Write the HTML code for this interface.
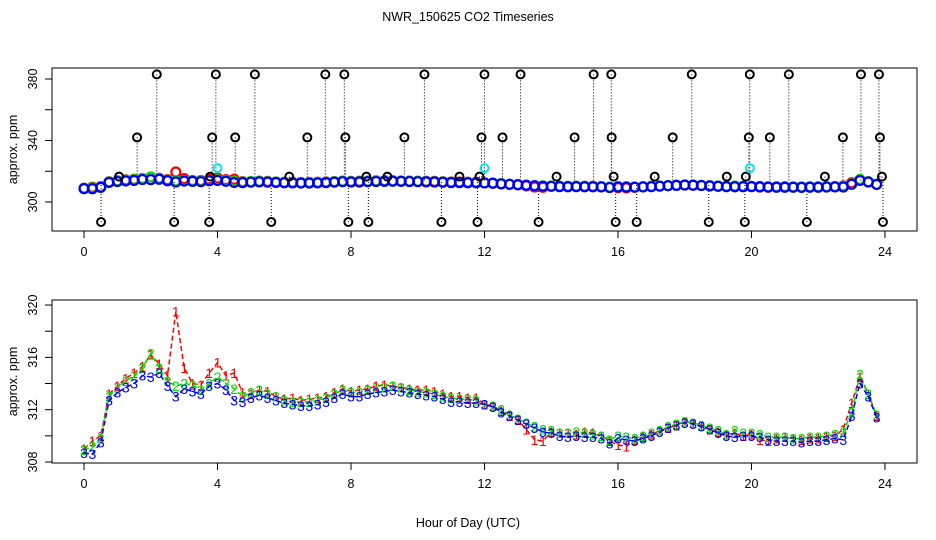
<!DOCTYPE html>
<html><head><meta charset="utf-8"><style>
html,body{margin:0;padding:0;background:#fff;}
svg{display:block;font-family:"Liberation Sans",sans-serif;}
</style></head><body>
<svg id="chart" width="936" height="540" viewBox="0 0 936 540" xmlns="http://www.w3.org/2000/svg">
<rect width="936" height="540" fill="#fff"/>
<text x="468" y="21" font-size="12.5" text-anchor="middle">NWR_150625  CO2 Timeseries</text>
<text x="468" y="527" font-size="12.5" text-anchor="middle">Hour of Day (UTC)</text>
<g id="top"></g>
<g id="bot"></g>
</svg>
<script>
const xTicks=[0,4,8,12,16,20,24];
const topYTicks=[300,320,340,360,380];
const topYLabels=[300,340,380];
const botYTicks=[308,310,312,314,316,318,320];
const botYLabels=[308,312,316,320];
const step=0.25;
const s1=[309.0,309.6,310.0,313.2,313.8,314.4,314.8,315.3,316.2,315.5,314.6,319.5,315.2,314.0,313.9,314.8,315.6,314.6,314.8,313.3,313.2,313.5,313.4,313.0,312.8,312.9,312.7,312.8,312.9,313.0,313.3,313.6,313.4,313.5,313.6,313.8,313.9,313.8,313.7,313.6,313.5,313.5,313.4,313.2,313.0,313.0,312.9,312.9,312.4,312.3,311.9,311.5,311.2,310.5,309.7,309.6,310.3,310.2,310.2,310.1,310.3,310.2,310.0,309.6,309.3,309.2,309.7,309.9,310.1,310.4,310.6,310.8,311.1,311.0,310.8,310.5,310.3,310.1,310.2,310.0,310.1,309.7,309.6,309.8,309.9,309.8,309.7,309.8,309.8,309.9,310.0,310.5,312.5,314.5,313.2,311.5];
const s2=[308.9,309.2,309.8,313.0,313.7,314.2,314.6,315.2,316.3,315.2,314.2,313.8,314.0,313.9,313.5,314.0,314.5,314.0,313.6,313.0,313.3,313.5,313.2,313.0,312.7,312.6,312.6,312.6,312.7,312.9,313.2,313.5,313.3,313.3,313.5,313.7,313.7,313.8,313.7,313.5,313.4,313.3,313.2,313.0,312.9,312.8,312.8,312.7,312.4,312.3,312.0,311.6,311.3,311.0,310.7,310.5,310.4,310.2,310.2,310.3,310.2,310.1,310.0,309.7,310.0,309.9,309.8,310.0,310.2,310.4,310.7,310.9,311.1,311.0,310.8,310.6,310.4,310.1,310.4,310.2,310.2,310.1,309.9,309.9,309.9,309.8,309.8,309.9,309.9,310.0,310.1,310.3,311.8,314.7,313.2,311.6];
const s3=[308.7,308.6,309.5,312.7,313.3,313.7,314.0,314.6,314.5,314.8,313.8,313.0,313.6,313.4,313.2,313.8,314.0,313.5,312.7,312.6,312.9,313.1,312.9,312.7,312.5,312.4,312.3,312.3,312.4,312.6,312.9,313.2,313.0,313.0,313.2,313.3,313.4,313.5,313.4,313.3,313.2,313.1,313.0,312.8,312.6,312.6,312.5,312.5,312.4,312.2,311.8,311.5,311.2,310.9,310.6,310.3,310.2,310.0,309.9,310.0,309.9,309.9,309.8,309.4,309.8,309.7,309.6,309.8,310.0,310.3,310.6,310.8,311.0,310.9,310.7,310.5,310.2,310.0,309.9,310.0,310.0,309.9,309.7,309.6,309.6,309.6,309.5,309.6,309.6,309.7,309.8,309.7,311.5,314.0,313.0,311.4];
const outHours=[2.18,3.95,5.12,7.23,7.80,10.2,12.0,13.08,15.27,15.8,18.21,19.95,21.12,23.28,23.82,
 1.59,3.84,4.53,6.69,7.83,9.6,11.91,12.54,14.7,15.81,17.64,19.92,20.55,22.74,23.85,
 0.51,2.70,3.75,5.61,7.92,8.52,10.71,11.79,13.62,15.93,16.56,18.72,19.8,21.66,23.94,
 1.05,3.78,6.15,8.46,9.09,11.25,11.85,14.16,15.87,17.1,19.26,19.83,22.2,23.91];
const outValues=[383,383,383,383,383,383,383,383,383,383,383,383,383,383,383,
 342,342,342,342,342,342,342,342,342,342,342,342,342,342,342,
 287,287,287,287,287,287,287,287,287,287,287,287,287,287,287,
 316.5,316.5,316.5,316.5,316.5,316.5,316.5,316.5,316.5,316.5,316.5,316.5,316.5,316.5];
const cyanHours=[4.0,12.0,19.95];
const cyanValues=[322,322,322];

const NS="http://www.w3.org/2000/svg";
function mk(tag,attrs,parent){const e=document.createElementNS(NS,tag);for(const k in attrs)e.setAttribute(k,attrs[k]);parent.appendChild(e);return e;}
const L=52,R=917;
function X(h){return L+(h+0.96)/(25.92)*(R-L);}
function topY(v){return 202-(v-300)*1.5375;}
function botY(v){return 462-(v-308)*13.08;}

function axes(g,top,bot,yf,ticks,labels){
  const b=mk('rect',{x:L,y:top,width:R-L,height:bot-top,fill:'none',stroke:'#000','stroke-width':1},g);
  
  
  xTicks.forEach(t=>{
    const ln=mk('line',{x1:X(t),x2:X(t),y1:bot,y2:bot+7,stroke:'#000'},g);
    
    
    const tx=mk('text',{x:X(t),y:bot+25,'font-size':12.5,'text-anchor':'middle'},g);
    
    
    tx.textContent=t;
  });
  ticks.forEach(t=>{
    const ln=mk('line',{x1:L-7,x2:L,y1:yf(t),y2:yf(t),stroke:'#000'},g);
    
    
  });
  labels.forEach(t=>{
    const tx=mk('text',{x:0,y:0,'font-size':12.5,'text-anchor':'middle',transform:`translate(37,${yf(t)}) rotate(-90)`},g);
    
    
    tx.textContent=t;
  });
  const yl=mk('text',{x:0,y:0,'font-size':12.5,'text-anchor':'middle',transform:`translate(17,${(top+bot)/2}) rotate(-90)`},g);
  
  
  yl.textContent='approx. ppm';
}
const series=[[s1,'#ff0000','1'],[s2,'#00e000','2'],[s3,'#0000ff','3']];
const gt=document.getElementById('top');
axes(gt,68,231,topY,topYTicks,topYLabels);
outHours.forEach((h,i)=>{
  const ln=mk('line',{x1:X(h),x2:X(h),y1:topY(outValues[i]),y2:topY(313),stroke:'#000','stroke-dasharray':'1,2'},gt);
  
  
});
series.forEach(([s,c])=>{
  s.forEach((v,i)=>{
    const ci=mk('circle',{cx:X(i*step),cy:topY(v),r:4.5,fill:'none',stroke:c,'stroke-width':2.2},gt);
    
    
  });
});
outHours.forEach((h,i)=>{
  const ci=mk('circle',{cx:X(h),cy:topY(outValues[i]),r:4,fill:'none',stroke:'#000','stroke-width':2},gt);
  
  
});
cyanHours.forEach((h,i)=>{
  const ci=mk('circle',{cx:X(h),cy:topY(cyanValues[i]),r:4,fill:'none',stroke:'#00e5ee','stroke-width':2},gt);
  
  
});
const gb=document.getElementById('bot');
axes(gb,300,463,botY,botYTicks,botYLabels);
series.forEach(([s,c,ch])=>{
  const pts=s.map((v,i)=>X(i*step)+','+botY(v)).join(' ');
  const pl=mk('polyline',{points:pts,fill:'none',stroke:c,'stroke-width':1.5,'stroke-dasharray':'5,3'},gb);
  
  
  s.forEach((v,i)=>{
    const t=mk('text',{x:X(i*step),y:botY(v)+5,'font-size':14,'text-anchor':'middle',fill:c},gb);
    
    
    t.textContent=ch;
  });
});
</script>
</body></html>
